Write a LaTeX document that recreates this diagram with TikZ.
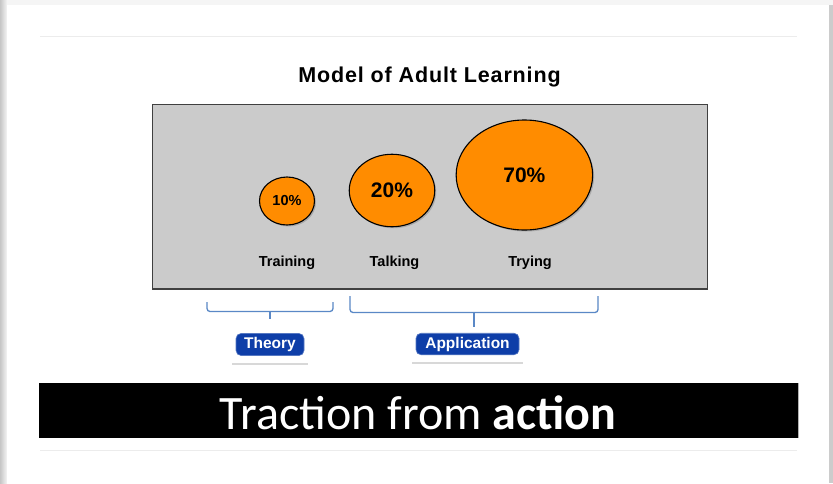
\documentclass[tikz,border=0pt]{standalone}
\usepackage{fontspec}
\setmainfont{Liberation Sans}
\newfontfamily\calib{Carlito}
\newfontfamily\titlefont[LetterSpace=4]{Liberation Sans}
\usetikzlibrary{shadows,shapes.geometric}
\definecolor{bubbleorange}{RGB}{255,140,0}
\definecolor{panelgray}{RGB}{203,203,203}
\definecolor{boxblue}{RGB}{14,62,168}
\definecolor{braceblue}{RGB}{90,136,198}
\definecolor{ruleline}{RGB}{236,236,236}
\tikzset{
  panel/.style={draw=black!75, line width=1.3pt, fill=panelgray, inner sep=0pt},
  bubble/.style={ellipse, draw=black, line width=1.1pt, fill=bubbleorange, inner sep=0pt,
    font=\bfseries, drop shadow={shadow xshift=1.5pt, shadow yshift=-1.5pt, opacity=0.45}},
  lbl/.style={font=\bfseries\fontsize{14.5}{16}\selectfont, inner sep=0pt},
  bracestyle/.style={draw=braceblue, line width=1.3pt, rounded corners=3pt},
  backing/.style={fill=white, inner sep=0pt, drop shadow={shadow xshift=0pt, shadow yshift=-2pt, opacity=0.3}},
  tag/.style={rounded corners=5pt, fill=boxblue, draw=boxblue!70, line width=0.6pt, text=white,
    font=\bfseries\fontsize{15.5}{17}\selectfont, inner sep=0pt},
  band/.style={fill=black, inner sep=0pt}
}
\begin{document}
\begin{tikzpicture}[x=1pt,y=-1pt]
\useasboundingbox (0,0) rectangle (833,483);
% page and its shadow
\fill[gray!8] (0,0) rectangle (833,483);
\shade[left color=gray!45, right color=gray!8] (0,0) rectangle (7,483);
\fill[gray!40] (829,5) rectangle (833,483);
\fill[white] (7,5) rectangle (829,483);
% rules
\draw[ruleline, line width=1pt] (40,36) -- (797,36);
\draw[ruleline, line width=1pt] (40,450) -- (797,450);
% title
\node[anchor=base, inner sep=0pt, font=\titlefont\bfseries\fontsize{21.5}{24}\selectfont] (title) at (429.5,82) {Model of Adult Learning};
% panel
\node[panel, minimum width=555pt, minimum height=184.5pt] (panel) at (430,196.8) {};
% bubbles
\node[bubble, minimum width=55pt, minimum height=48pt, font=\bfseries\fontsize{14.5}{16}\selectfont] (b10) at (287,201) {10\%};
\node[bubble, minimum width=85.5pt, minimum height=72.5pt, font=\bfseries\fontsize{21}{23}\selectfont] (b20) at (392,190.5) {20\%};
\node[bubble, minimum width=136.5pt, minimum height=110pt, font=\bfseries\fontsize{21}{23}\selectfont] (b70) at (524.4,175) {70\%};
% labels
\node[lbl, anchor=base] (ltraining) at (287,266) {Training};
\node[lbl, anchor=base] (ltalking) at (394.5,266) {Talking};
\node[lbl, anchor=base] (ltrying) at (530,266) {Trying};
% braces
\draw[bracestyle] (207,302) -- (207,311.5) -- (333,311.5) -- (333,302);
\draw[braceblue, line width=1.3pt] (270,311.5) -- (270,318.5);
\draw[bracestyle] (350,296) -- (350,312.5) -- (598,312.5) -- (598,296);
\draw[braceblue, line width=1.3pt] (474,312.5) -- (474,327);
% tags
\node[backing, minimum width=76pt, minimum height=32pt] (thback) at (270,346.5) {};
\node[tag, minimum width=68pt, minimum height=22pt] (theory) at (270,344.5) {Theory};
\node[backing, minimum width=111pt, minimum height=32pt] (apback) at (467.5,346) {};
\node[tag, minimum width=103pt, minimum height=21.5pt] (application) at (467.5,344) {Application};
% band
\node[band, minimum width=759pt, minimum height=54.7pt] (bandbox) at (418.5,410.7) {};
\draw[gray!60, line width=1pt] (798,383.3) -- (798,438);
\node[anchor=base, inner sep=0pt, text=white, font=\calib\fontsize{48}{50}\selectfont] (slogan) at (418,429.3) {Traction from \textbf{action}};
\end{tikzpicture}
\end{document}
